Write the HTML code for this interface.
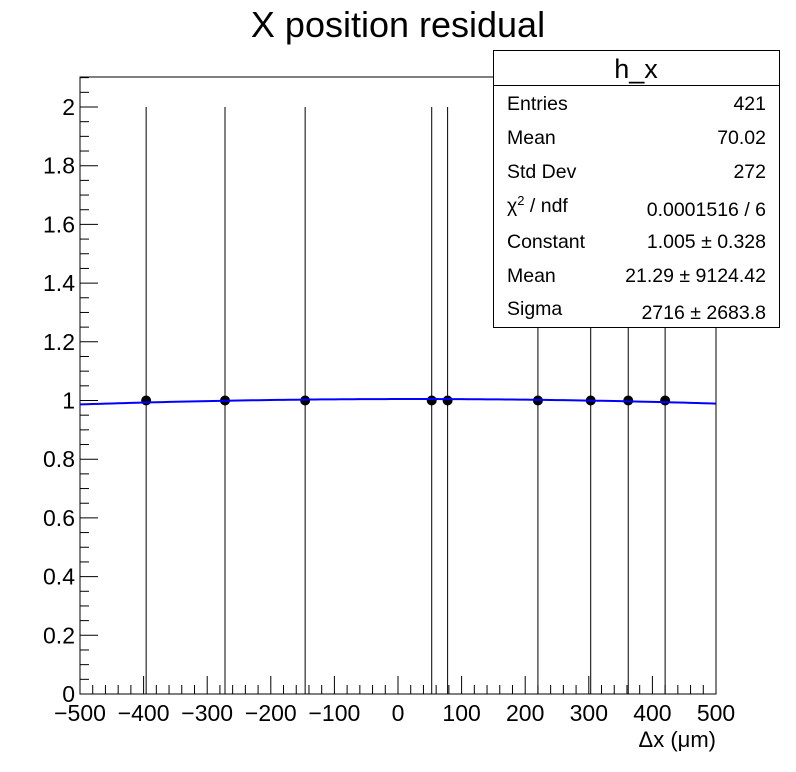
<!DOCTYPE html>
<html><head><meta charset="utf-8"><style>
body{margin:0;background:#fff}
svg{display:block;font-family:"Liberation Sans",sans-serif}
</style></head><body>
<svg id="c" width="796" height="772">
<rect width="796" height="772" fill="#fff"/>
<text x="398" y="37" font-size="36" text-anchor="middle">X position residual</text>
<rect x="80" y="77" width="636" height="617" fill="none" stroke="#000" stroke-width="1"/>
<g id="axes"></g>
<g id="marks"></g>
<text x="716" y="747" font-size="22" text-anchor="end">Δx (μm)</text>
<g>
<rect x="493.5" y="50.5" width="286" height="277" fill="#fff" stroke="#000"/>
<line x1="493.5" y1="85.5" x2="779.5" y2="85.5" stroke="#000"/>
<text x="636" y="78" font-size="27" text-anchor="middle">h_x</text>
<g font-size="19.5">
<text x="507" y="110">Entries</text><text x="766" y="110" text-anchor="end">421</text>
<text x="507" y="144">Mean</text><text x="766" y="144" text-anchor="end">70.02</text>
<text x="507" y="178">Std Dev</text><text x="766" y="178" text-anchor="end">272</text>
<text x="507" y="212">χ<tspan font-size="13" dy="-7">2</tspan><tspan dy="7"> / ndf</tspan></text><text x="766" y="216" text-anchor="end">0.0001516 / 6</text>
<text x="507" y="248">Constant</text><text x="766" y="248" text-anchor="end">1.005 ± 0.328</text>
<text x="507" y="282">Mean</text><text x="766" y="282" text-anchor="end">21.29 ± 9124.42</text>
<text x="507" y="315">Sigma</text><text x="766" y="319" text-anchor="end">2716 ± 2683.8</text>
</g></g>
</svg>
<script>
const xCenters=[-396,-272,-146,53,78,220,303,362,420];
const yValues=[1,1,1,1,1,1,1,1,1];
const yErrors=[1,1,1,1,1,1,1,1,1];
const fitConstant=1.005, fitMean=21.29, fitSigma=2716;
const xTickLabels=["−500","−400","−300","−200","−100","0","100","200","300","400","500"];
const yTickLabels=["0","0.2","0.4","0.6","0.8","1","1.2","1.4","1.6","1.8","2"];
const NS="http://www.w3.org/2000/svg";
const X=v=>80+(v+500)*0.636;
const Y=v=>694-v*293.5;
function mk(t,a,p){const e=document.createElementNS(NS,t);for(const k in a)e.setAttribute(k,a[k]);p.appendChild(e);return e;}
const ax=document.getElementById('axes'),mg=document.getElementById('marks');
for(let v=-500;v<=500;v+=20){const maj=v%100===0;
const t=mk('line',{x1:X(v),x2:X(v),y1:694,y2:694-(maj?18:9),stroke:'#000'},ax);
}
xTickLabels.forEach((s,i)=>{const t=mk('text',{x:X(-500+i*100),y:721,'font-size':23,'text-anchor':'middle'},ax);t.textContent=s;
});
for(let i=0;i<=42;i++){const v=i*0.05;if(v>2.1)break;const maj=i%4===0;
const t=mk('line',{x1:80,x2:80+(maj?18:9),y1:Y(v),y2:Y(v),stroke:'#000'},ax);
}
yTickLabels.forEach((s,i)=>{const t=mk('text',{x:75,y:Y(i*0.2)+8,'font-size':23,'text-anchor':'end'},ax);t.textContent=s;
});
xCenters.forEach((c,i)=>{
const l=mk('line',{x1:X(c),x2:X(c),y1:Y(yValues[i]-yErrors[i]),y2:Y(yValues[i]+yErrors[i]),stroke:'#000'},mg);

const p=mk('circle',{cx:X(c),cy:Y(yValues[i]),r:5,fill:'#000'},mg);
});
let d='';for(let v=-500;v<=500;v+=10){const f=fitConstant*Math.exp(-0.5*((v-fitMean)/fitSigma)**2);d+=(d?'L':'M')+X(v)+','+Y(f);}
const fl=mk('path',{d:d,fill:'none',stroke:'#0000ff','stroke-width':2},mg);

</script>
</body></html>
